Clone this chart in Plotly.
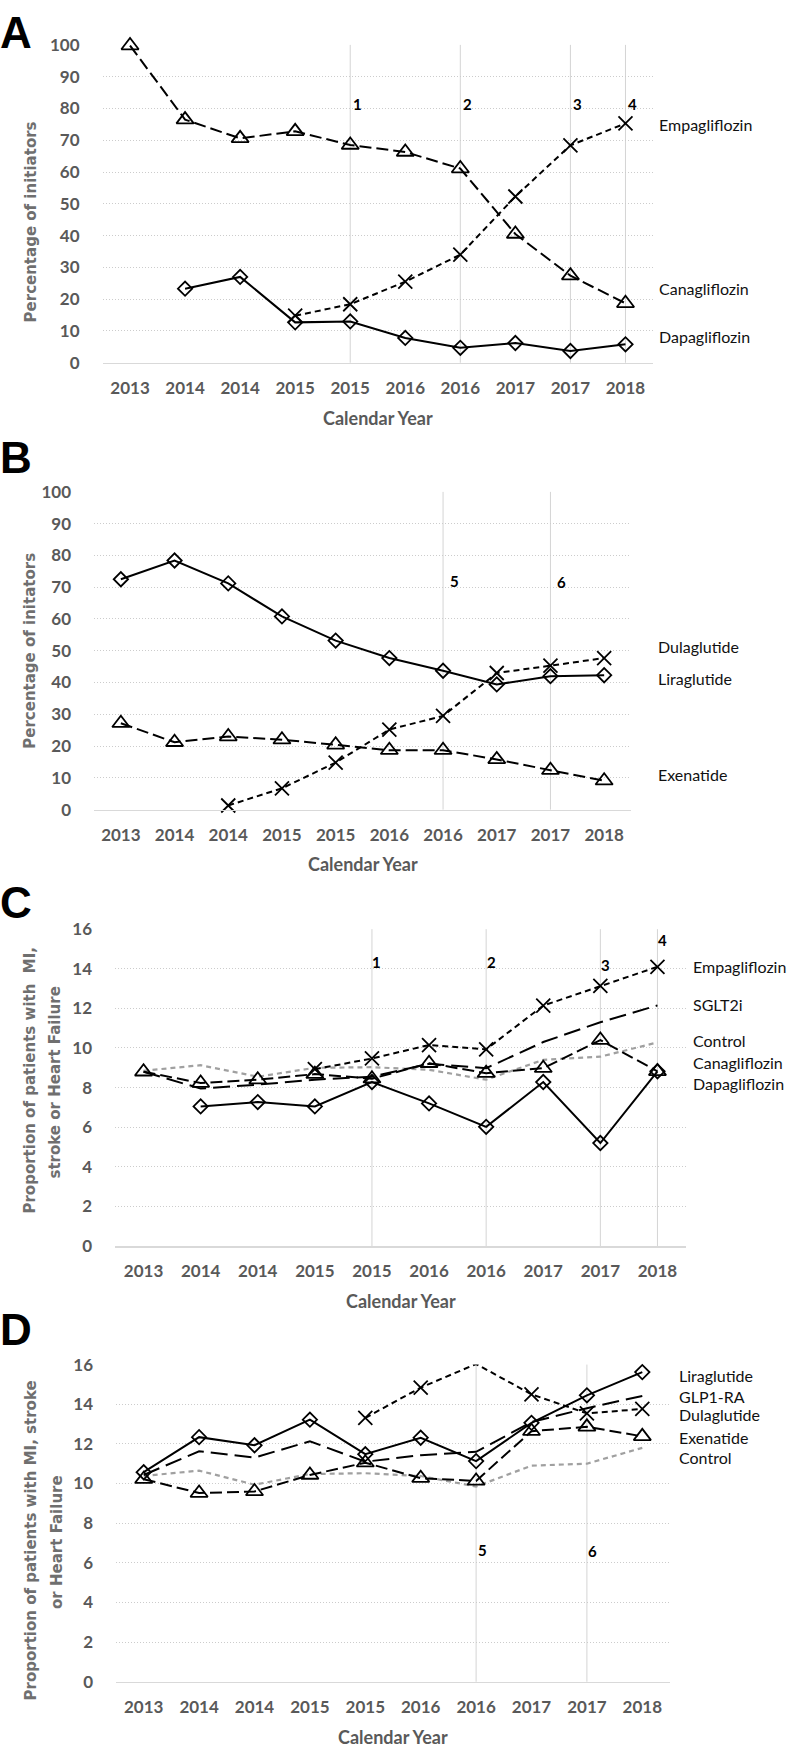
import plotly.graph_objects as go

W, H = 794, 1753

# ---------------- data ----------------
years = ["2013", "2014", "2014", "2015", "2015", "2016", "2016", "2017", "2017", "2018"]

# Panel A: share of SGLT2i initiators (%)
a_canagliflozin = [99.8, 76.5, 70.6, 72.8, 68.5, 66.3, 61.1, 40.5, 27.4, 18.7]
a_empagliflozin = [None, None, None, 14.8, 18.4, 25.5, 34.0, 52.3, 68.4, 75.3]
a_dapagliflozin = [None, 23.3, 27.0, 12.7, 13.0, 7.8, 4.7, 6.2, 3.7, 5.8]
a_event_pos = [4, 6, 8, 9]
a_event_lab = ["1", "2", "3", "4"]
a_event_y = [81.3, 81.3, 81.3, 81.3]

# Panel B: share of GLP1-RA initiators (%)
b_liraglutide = [72.5, 78.4, 71.2, 60.8, 53.2, 47.7, 43.7, 39.4, 42.0, 42.3]
b_exenatide = [27.2, 21.2, 23.0, 22.0, 20.4, 18.7, 18.7, 15.8, 12.4, 9.1]
b_dulaglutide = [None, None, 1.3, 6.7, 14.8, 25.2, 29.5, 43.0, 45.3, 47.7]
b_event_pos = [6, 8]
b_event_lab = ["5", "6"]
b_event_y = [71.9, 71.6]

# Panel C: proportion with MI, stroke or HF (SGLT2i)
c_empagliflozin = [None, None, None, 8.93, 9.47, 10.15, 9.93, 12.14, 13.14, 14.1]
c_sglt2i = [8.8, 7.95, 8.15, 8.4, 8.55, 9.2, 8.98, 10.3, 11.3, 12.15]
c_control = [8.85, 9.13, 8.55, 9.0, 9.03, 8.9, 8.4, 9.4, 9.56, 10.28]
c_canagliflozin = [8.8, 8.23, 8.4, 8.68, 8.45, 9.23, 8.73, 8.98, 10.4, 8.82]
c_dapagliflozin = [None, 7.05, 7.27, 7.05, 8.28, 7.2, 6.02, 8.28, 5.2, 8.82]
c_event_pos = [4, 6, 8, 9]
c_event_lab = ["1", "2", "3", "4"]
c_event_y = [14.34, 14.34, 14.2, 15.47]

# Panel D: proportion with MI, stroke or HF (GLP1-RA)
d_liraglutide = [10.57, 12.34, 11.93, 13.22, 11.48, 12.31, 11.13, 13.06, 14.45, 15.62]
d_glp1ra = [10.43, 11.63, 11.31, 12.13, 11.1, 11.43, 11.6, 13.1, 13.8, 14.42]
d_dulaglutide = [None, None, None, None, 13.31, 14.84, 16.03, 14.5, 13.54, 13.76]
d_exenatide = [10.22, 9.52, 9.6, 10.43, 11.05, 10.27, 10.13, 12.64, 12.86, 12.38]
d_control = [10.38, 10.65, 9.94, 10.48, 10.52, 10.38, 9.85, 10.9, 11.0, 11.8]
d_event_pos = [6, 8]
d_event_lab = ["5", "6"]
d_event_y = [6.63, 6.6]

# ---------------- styles ----------------
TICK_FONT = "Lato, 'Open Sans', sans-serif"
TITLE_FONT = "'DejaVu Sans', Verdana, sans-serif"
LABEL_FONT = "Lato, 'Open Sans', sans-serif"
LETTER_FONT = "'Liberation Sans', Arial, sans-serif"
GREY_TXT = "#595959"

STY = {
    "solid_diamond": dict(dash="solid", symbol="diamond-open", size=11, color="black", width=2.0),
    "long_triangle": dict(dash="12px,5px", symbol="triangle-up-open", size=15, color="black", width=2.0),
    "short_x": dict(dash="6px,4px", symbol="x-thin-open", size=14, color="black", width=2.0),
    "longer_plain": dict(dash="17px,7px", symbol=None, size=0, color="black", width=2.0),
    "grey_plain": dict(dash="5px,4px", symbol=None, size=0, color="#a0a0a0", width=2.2),
}

x_idx = list(range(len(years)))


def px(x):
    return x / W


def py(y):
    return 1 - y / H


fig = go.Figure()

panels = [
    dict(ax="", xd=(102.5, 653), yd=(34.3, 356), yr=(0, 100), dt=10,
         series=[(a_canagliflozin, "long_triangle"), (a_empagliflozin, "short_x"),
                 (a_dapagliflozin, "solid_diamond")],
         ev=(a_event_pos, a_event_lab, a_event_y, 7.5),
         labels=[("Empagliflozin", 115), ("Canagliflozin", 281), ("Dapagliflozin", 329)], lx=657,
         letter=("A", 21.5), xt=412,
         ytitle=[("Percentage of initiators", 31, 214)]),
    dict(ax="2", xd=(94, 631), yd=(486.7, 808.3), yr=(0, 100), dt=10,
         series=[(b_exenatide, "long_triangle"), (b_dulaglutide, "short_x"),
                 (b_liraglutide, "solid_diamond")],
         ev=(b_event_pos, b_event_lab, b_event_y, 11.5),
         labels=[("Dulaglutide", 643), ("Liraglutide", 675.3), ("Exenatide", 772.3)], lx=656,
         letter=("B", 452), xt=863,
         ytitle=[("Percentage of initators", 30, 647.5)]),
    dict(ax="3", xd=(115, 686), yd=(929.3, 1250), yr=(0, 16), dt=2,
         series=[(c_control, "grey_plain"), (c_sglt2i, "longer_plain"),
                 (c_canagliflozin, "long_triangle"), (c_empagliflozin, "short_x"),
                 (c_dapagliflozin, "solid_diamond")],
         ev=(c_event_pos, c_event_lab, c_event_y, 5),
         labels=[("Empagliflozin", 967.3), ("SGLT2i", 1006), ("Control", 1041.7),
                 ("Canagliflozin", 1064.3), ("Dapagliflozin", 1086)], lx=691,
         letter=("C", 902), xt=1306,
         ytitle=[("Proportion of patients with\u00a0 MI,", 30, 1082.5),
                 ("stroke or Heart Failure", 55, 1084.5)]),
    dict(ax="4", xd=(116, 670), yd=(1370, 1691), yr=(0, 16), dt=2,
         series=[(d_control, "grey_plain"), (d_glp1ra, "longer_plain"),
                 (d_exenatide, "long_triangle"), (d_dulaglutide, "short_x"),
                 (d_liraglutide, "solid_diamond")],
         ev=(d_event_pos, d_event_lab, d_event_y, 6),
         labels=[("Liraglutide", 1381), ("GLP1-RA", 1402.7), ("Dulaglutide", 1421),
                 ("Exenatide", 1444.3), ("Control", 1464.3)], lx=677,
         letter=("D", 1334), xt=1747,
         ytitle=[("Proportion of patients with MI, stroke", 31, 1548),
                 ("or Heart Failure", 57, 1549.5)]),
]

annotations = []
shapes = []

for p in panels:
    ax = p["ax"]
    xname = "x" + ax
    yname = "y" + ax
    # vertical event lines (underneath the series)
    pos, lab, yv, shift = p["ev"]
    for xp in pos:
        shapes.append(dict(type="line", xref=xname, yref=yname + " domain",
                           x0=xp, x1=xp, y0=0, y1=1,
                           line=dict(color="#d4d4d4", width=1), layer="below"))
    for xp, t, yy in zip(pos, lab, yv):
        annotations.append(dict(xref=xname, yref=yname, x=xp, y=yy, text=t,
                                showarrow=False, xshift=shift,
                                font=dict(family=TICK_FONT, size=15, color="black", weight="bold")))
    # series
    for vals, key in p["series"]:
        s = STY[key]
        mode = "lines+markers" if s["symbol"] else "lines"
        marker = dict(symbol=s["symbol"], size=s["size"], color="black",
                      line=dict(color="black", width=1.8)) if s["symbol"] else None
        fig.add_trace(go.Scatter(
            x=x_idx, y=vals, xaxis=xname, yaxis=yname, mode=mode,
            line=dict(color=s["color"], width=s["width"], dash=s["dash"]),
            marker=marker, cliponaxis=False, showlegend=False, hoverinfo="skip"))
    # axes
    fig.update_layout(**{
        "xaxis" + ax: dict(
            domain=[px(p["xd"][0]), px(p["xd"][1])], anchor=yname,
            range=[-0.5, 9.5], tickmode="array", tickvals=x_idx, ticktext=years,
            showgrid=False, zeroline=False, showline=True, linecolor="#d9d9d9", linewidth=1.5,
            ticks="", ticklabelstandoff=9,
            tickfont=dict(family=TICK_FONT, size=17, color=GREY_TXT, weight="bold"),
            fixedrange=True),
        "yaxis" + ax: dict(
            domain=[py(p["yd"][1]), py(p["yd"][0])], anchor=xname,
            range=list(p["yr"]), dtick=p["dt"], tick0=0,
            showgrid=True, gridcolor="#cccccc", griddash="1px,2px", gridwidth=1,
            zeroline=False, showline=False, ticks="", ticklabelstandoff=22,
            tickfont=dict(family=TICK_FONT, size=17, color=GREY_TXT, weight="bold"),
            fixedrange=True),
    })
    # series labels
    for t, yy in p["labels"]:
        annotations.append(dict(xref="paper", yref="paper", x=px(p["lx"]), y=py(yy),
                                xanchor="left", yanchor="middle", text=t, showarrow=False,
                                font=dict(family=LABEL_FONT, size=16, color="#111111")))
    # x title
    annotations.append(dict(xref="paper", yref="paper",
                            x=px((p["xd"][0] + p["xd"][1]) / 2), y=py(p["xt"]),
                            xanchor="center", yanchor="middle", text="Calendar Year", showarrow=False,
                            font=dict(family=TICK_FONT, size=18, color=GREY_TXT, weight="bold")))
    # y title(s)
    for t, xx, yy in p["ytitle"]:
        annotations.append(dict(xref="paper", yref="paper", x=px(xx), y=py(yy),
                                xanchor="center", yanchor="middle", text=t, textangle=-90,
                                showarrow=False,
                                font=dict(family=TITLE_FONT, size=15, color="#6f6f6f", weight="bold")))
    # panel letter
    letter, ly = p["letter"]
    annotations.append(dict(xref="paper", yref="paper", x=-0.002, y=py(ly), xanchor="left",
                            yanchor="middle", text=letter, showarrow=False,
                            font=dict(family=LETTER_FONT, size=44, color="black", weight="bold")))

fig.update_layout(
    width=W, height=H, margin=dict(l=0, r=0, t=0, b=0),
    paper_bgcolor="white", plot_bgcolor="white",
    annotations=annotations, shapes=shapes, showlegend=False,
)

# remove the browser's default 8px page margin so the figure sits at the window origin
fig.write_html("out.html",
               config={"displayModeBar": False, "staticPlot": True},
               post_script="document.body.style.margin='0px';document.body.style.padding='0px';")
